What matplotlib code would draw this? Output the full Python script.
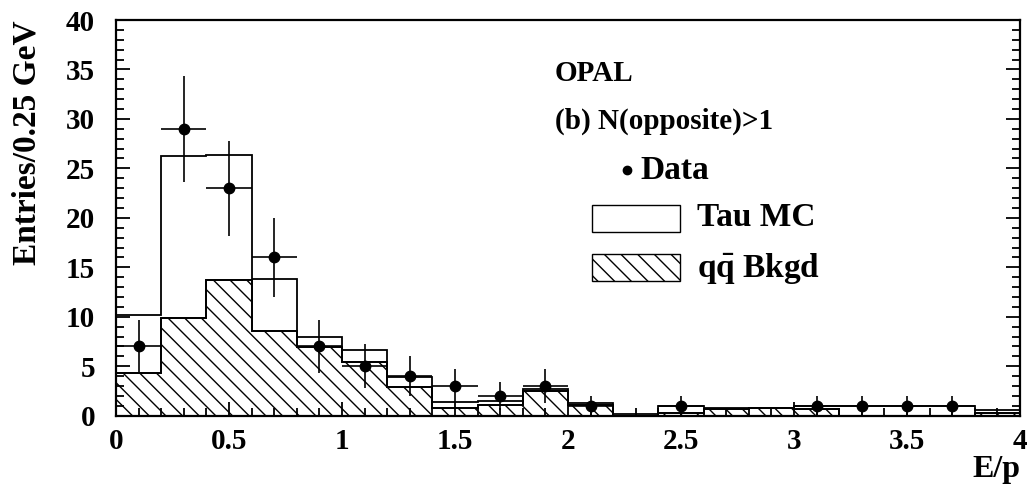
import matplotlib
matplotlib.use('Agg')
import matplotlib.pyplot as plt
import numpy as np
from matplotlib.patches import Rectangle
from matplotlib.ticker import MultipleLocator

plt.rcParams['font.family'] = ['Liberation Serif', 'DejaVu Serif']
plt.rcParams['font.weight'] = 'bold'
plt.rcParams['mathtext.fontset'] = 'custom'
plt.rcParams['mathtext.rm'] = 'Liberation Serif:bold'
plt.rcParams['mathtext.it'] = 'Liberation Serif:bold'
plt.rcParams['mathtext.bf'] = 'Liberation Serif:bold'
plt.rcParams['hatch.linewidth'] = 1.0

# E/p bins, 0.2 wide
edges = np.round(np.arange(0, 4.01, 0.2), 2)
centres = 0.5 * (edges[:-1] + edges[1:])

tau_mc = [10.2, 26.3, 26.4, 13.8, 8.0, 6.65, 3.95, 1.4, 1.45, 2.65,
          1.25, 0.2, 1.0, 0.75, 0.8, 1.0, 1.0, 1.0, 1.0, 0.55]
qq_bkgd = [4.3, 9.85, 13.7, 8.6, 6.9, 5.4, 2.9, 0.8, 1.05, 2.45,
           1.05, 0.0, 0.3, 0.7, 0.75, 0.65, 0.0, 0.0, 0.0, 0.3]
data = [7, 29, 23, 16, 7, 5, 4, 3, 2, 3,
        1, 0, 1, 0, 0, 1, 1, 1, 1, 0]

fig = plt.figure(figsize=(10.33, 4.94), dpi=100)
ax = fig.add_axes([0.1123, 0.1585, 0.8751, 0.801])

ax.stairs(qq_bkgd, edges, fill=True, facecolor='white', edgecolor='black',
          hatch='\\\\', linewidth=1.3)
ax.stairs(qq_bkgd, edges, color='black', linewidth=1.3)
ax.stairs(tau_mc, edges, color='black', linewidth=1.3)

d = np.array(data, dtype=float)
m = d > 0
ax.errorbar(centres[m], d[m], xerr=0.1, yerr=np.sqrt(d[m]), fmt='o',
            color='black', ms=7.5, elinewidth=1.2, capsize=0)

ax.set_xlim(0, 4)
ax.set_ylim(0, 40)
ax.xaxis.set_major_locator(MultipleLocator(0.5))
ax.xaxis.set_minor_locator(MultipleLocator(0.1))
ax.yaxis.set_major_locator(MultipleLocator(5))
ax.yaxis.set_minor_locator(MultipleLocator(1))
ax.set_xticks([0, 0.5, 1, 1.5, 2, 2.5, 3, 3.5, 4])
ax.set_xticklabels(['0', '0.5', '1', '1.5', '2', '2.5', '3', '3.5', '4'])
ax.tick_params(which='both', direction='in', right=True, top=False,
               labelsize=21, width=1.3)
ax.tick_params(which='major', length=10)
ax.tick_params(which='minor', length=5.5)
ax.tick_params(axis='x', pad=9)
ax.tick_params(axis='y', pad=15)
for s in ax.spines.values():
    s.set_linewidth(1.6)

ax.text(-0.098, 1.0, 'Entries/0.25 GeV', transform=ax.transAxes,
        rotation=90, ha='center', va='top', fontsize=24, fontweight='bold')
ax.text(1.0, -0.135, 'E/p', transform=ax.transAxes, ha='right',
        va='center', fontsize=23, fontweight='bold')

ax.text(1.942, 34.6, 'OPAL', fontsize=21, fontweight='bold', va='center')
ax.text(1.942, 29.8, '(b) N(opposite)>1', fontsize=21, fontweight='bold',
        va='center')

ax.plot([2.261], [24.8], 'o', color='black', ms=6)
ax.text(2.319, 24.8, 'Data', fontsize=24, fontweight='bold', va='center')

ax.add_patch(Rectangle((2.106, 18.57), 0.39, 2.73, facecolor='white',
                       edgecolor='black', linewidth=1.0))
ax.text(2.571, 20.0, 'Tau MC', fontsize=24, fontweight='bold', va='center')

ax.add_patch(Rectangle((2.106, 13.6), 0.39, 2.7, facecolor='white',
                       edgecolor='black', linewidth=1.0, hatch='\\\\'))
ax.text(2.571, 14.9, r'q$\bar{q}$ Bkgd', fontsize=24, fontweight='bold',
        va='center')

fig.savefig('out.png', dpi=100)
